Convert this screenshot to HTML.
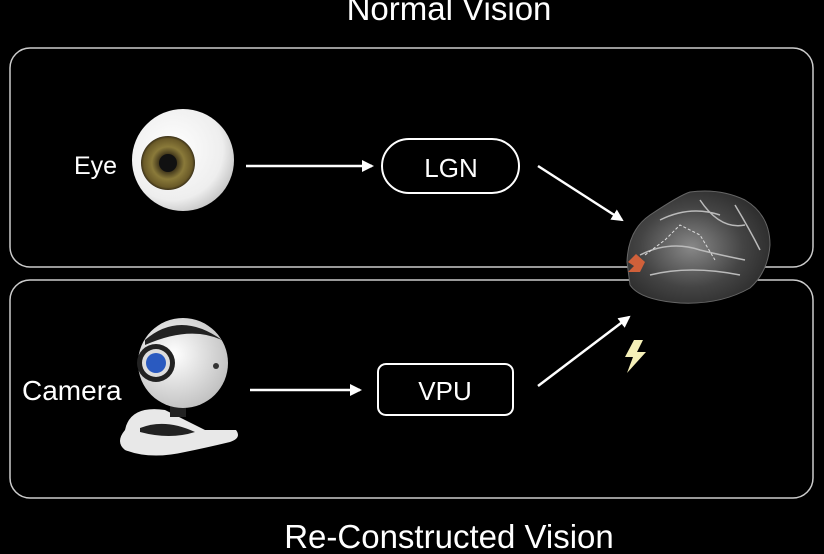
<!DOCTYPE html>
<html><head><style>
body{margin:0;background:#000;width:824px;height:549px;overflow:hidden;font-family:"Liberation Sans",sans-serif;}
</style></head><body>
<svg width="824" height="549" viewBox="0 0 824 549" xmlns="http://www.w3.org/2000/svg">
<defs>
<radialGradient id="eyeg" cx="0.4" cy="0.4" r="0.7"><stop offset="0" stop-color="#fff"/><stop offset="0.7" stop-color="#eee"/><stop offset="1" stop-color="#b8b8b8"/></radialGradient>
<radialGradient id="iris" cx="0.5" cy="0.5" r="0.5"><stop offset="0.3" stop-color="#3a3018"/><stop offset="0.6" stop-color="#8a7a3a"/><stop offset="0.9" stop-color="#6a5a28"/><stop offset="1" stop-color="#3a3018"/></radialGradient>
<radialGradient id="brain" cx="0.45" cy="0.5" r="0.6"><stop offset="0" stop-color="#888"/><stop offset="0.6" stop-color="#444"/><stop offset="1" stop-color="#2a2a2a"/></radialGradient>
<radialGradient id="cam" cx="0.4" cy="0.4" r="0.7"><stop offset="0" stop-color="#fff"/><stop offset="1" stop-color="#bbb"/></radialGradient>
<marker id="ah" markerWidth="12" markerHeight="12" refX="10" refY="6" orient="auto" markerUnits="userSpaceOnUse"><path d="M0,0 L12,6 L0,12 z" fill="#fff"/></marker>
</defs>
<text x="449" y="20" fill="#fff" font-size="33" text-anchor="middle">Normal Vision</text>
<text x="449" y="548" fill="#fff" font-size="33" text-anchor="middle">Re-Constructed Vision</text>
<rect x="10" y="48" width="803" height="219" rx="20" fill="none" stroke="#ccc" stroke-width="1.5"/>
<rect x="10" y="280" width="803" height="218" rx="20" fill="none" stroke="#ccc" stroke-width="1.5"/>
<text x="74" y="174" fill="#fff" font-size="25">Eye</text>
<text x="22" y="400" fill="#fff" font-size="28">Camera</text>
<circle cx="183" cy="160" r="51" fill="url(#eyeg)"/>
<circle cx="168" cy="163" r="27" fill="url(#iris)"/>
<circle cx="168" cy="163" r="9" fill="#111"/>
<!-- camera -->
<path d="M125,430 Q130,405 165,410 Q185,420 205,430 L236,430 Q242,438 230,442 Q205,448 185,452 Q150,460 125,450 Q115,442 125,430z" fill="#e8e8e8"/>
<path d="M140,428 Q165,418 195,432 Q170,440 140,432z" fill="#222"/>
<rect x="170" y="395" width="16" height="22" fill="#222"/>
<circle cx="183" cy="363" r="45" fill="url(#cam)"/>
<path d="M145,340 Q180,310 222,340 Q190,325 145,345z" fill="#222"/>
<circle cx="156" cy="363" r="19" fill="#222"/>
<circle cx="156" cy="363" r="14" fill="#ddd"/>
<circle cx="156" cy="363" r="10" fill="#2a5ac0"/>
<circle cx="216" cy="366" r="3" fill="#333"/>
<!-- arrows -->
<line x1="246" y1="166" x2="372" y2="166" stroke="#fff" stroke-width="2.5" marker-end="url(#ah)"/>
<line x1="250" y1="390" x2="360" y2="390" stroke="#fff" stroke-width="2.5" marker-end="url(#ah)"/>
<line x1="538" y1="166" x2="622" y2="220" stroke="#fff" stroke-width="2.5" marker-end="url(#ah)"/>
<line x1="538" y1="386" x2="629" y2="317" stroke="#fff" stroke-width="2.5" marker-end="url(#ah)"/>
<rect x="382" y="139" width="137" height="54" rx="27" fill="none" stroke="#fff" stroke-width="2"/>
<text x="451" y="177" fill="#fff" font-size="26" text-anchor="middle">LGN</text>
<rect x="378" y="364" width="135" height="51" rx="8" fill="none" stroke="#fff" stroke-width="2"/>
<text x="445" y="400" fill="#fff" font-size="26" text-anchor="middle">VPU</text>
<!-- brain -->
<path d="M627,262 Q628,230 650,215 Q680,195 690,192 Q720,188 745,200 Q770,215 770,245 Q768,272 750,288 Q720,305 680,303 Q640,300 630,285 Z" fill="url(#brain)" stroke="#666"/>
<path d="M640,255 Q670,240 700,250 Q720,255 745,260 M650,275 Q690,265 740,275 M660,220 Q690,205 720,215 M700,200 Q720,230 745,225 M735,205 Q750,230 760,250" stroke="#bbb" stroke-width="1.5" fill="none"/>
<path d="M645,255 L665,240 L680,225 L700,235 L715,260" stroke="#ddd" stroke-dasharray="3,2" fill="none"/>
<path d="M628,262 L636,254 L645,262 L640,272 L628,272 L634,266z" fill="#d0603a"/>
<path d="M634,340 L625,357 L633,357 L627,373 L646,352 L637,352 L643,340z" fill="#f5f0b8"/>
</svg>
</body></html>
